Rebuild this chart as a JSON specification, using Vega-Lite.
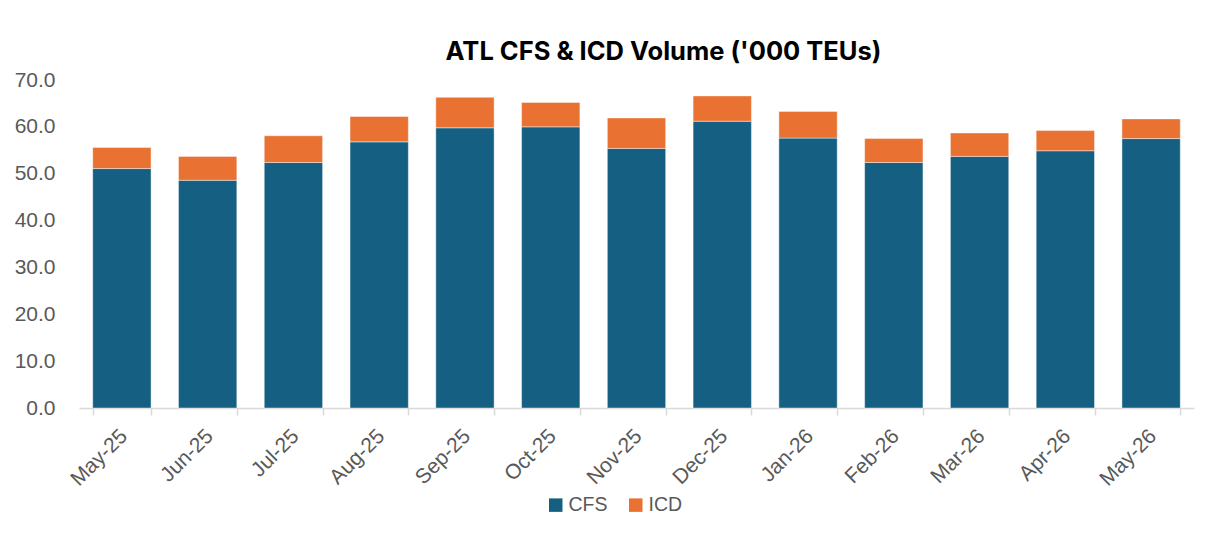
{
  "$schema": "https://vega.github.io/schema/vega-lite/v6.json",
  "autosize": "none",
  "width": 1115,
  "height": 328,
  "padding": {"left": 79, "top": 80, "right": 15, "bottom": 133},
  "background": "white",
  "title": {
    "text": "ATL CFS & ICD Volume ('000 TEUs)",
    "frame": "group",
    "anchor": "middle",
    "dx": 27,
    "offset": 4,
    "font": "Inter",
    "fontSize": 25.5,
    "fontWeight": "bold",
    "color": "#000000"
  },
  "data": {
    "values": [
      {"month": "May-25", "series": "CFS", "value": 51.1},
      {"month": "May-25", "series": "ICD", "value": 4.5},
      {"month": "Jun-25", "series": "CFS", "value": 48.6},
      {"month": "Jun-25", "series": "ICD", "value": 5.1},
      {"month": "Jul-25", "series": "CFS", "value": 52.4},
      {"month": "Jul-25", "series": "ICD", "value": 5.7},
      {"month": "Aug-25", "series": "CFS", "value": 56.8},
      {"month": "Aug-25", "series": "ICD", "value": 5.4},
      {"month": "Sep-25", "series": "CFS", "value": 59.8},
      {"month": "Sep-25", "series": "ICD", "value": 6.5},
      {"month": "Oct-25", "series": "CFS", "value": 60.0},
      {"month": "Oct-25", "series": "ICD", "value": 5.2},
      {"month": "Nov-25", "series": "CFS", "value": 55.4},
      {"month": "Nov-25", "series": "ICD", "value": 6.5},
      {"month": "Dec-25", "series": "CFS", "value": 61.2},
      {"month": "Dec-25", "series": "ICD", "value": 5.4},
      {"month": "Jan-26", "series": "CFS", "value": 57.6},
      {"month": "Jan-26", "series": "ICD", "value": 5.7},
      {"month": "Feb-26", "series": "CFS", "value": 52.4},
      {"month": "Feb-26", "series": "ICD", "value": 5.1},
      {"month": "Mar-26", "series": "CFS", "value": 53.7},
      {"month": "Mar-26", "series": "ICD", "value": 5.0},
      {"month": "Apr-26", "series": "CFS", "value": 54.9},
      {"month": "Apr-26", "series": "ICD", "value": 4.3},
      {"month": "May-26", "series": "CFS", "value": 57.5},
      {"month": "May-26", "series": "ICD", "value": 4.2}
    ]
  },
  "mark": {"type": "bar", "stroke": "#ffffff", "strokeWidth": 0.6, "strokeOpacity": 0.7},
  "encoding": {
    "x": {
      "field": "month",
      "type": "nominal",
      "sort": null,
      "scale": {"paddingInner": 0.32, "paddingOuter": 0.16},
      "axis": {
        "title": null,
        "labelAngle": -45,
        "labelFont": "Liberation Sans",
        "labelFontSize": 21,
        "labelColor": "#595959",
        "labelPadding": 10,
        "labelOffset": -6,
        "domainColor": "#d9d9d9",
        "domainWidth": 1.5,
        "tickColor": "#d9d9d9",
        "tickWidth": 1.5,
        "tickSize": 7,
        "tickBand": "extent",
        "grid": false
      }
    },
    "y": {
      "field": "value",
      "type": "quantitative",
      "stack": "zero",
      "scale": {"domain": [0, 70], "nice": false},
      "axis": {
        "title": null,
        "values": [0, 10, 20, 30, 40, 50, 60, 70],
        "format": ".1f",
        "labelFont": "Liberation Sans",
        "labelFontSize": 21,
        "labelColor": "#595959",
        "labelPadding": 24,
        "domain": false,
        "ticks": false,
        "grid": false
      }
    },
    "color": {
      "field": "series",
      "type": "nominal",
      "scale": {"domain": ["CFS", "ICD"], "range": ["#156082", "#E97132"]},
      "legend": {
        "title": null,
        "orient": "none",
        "legendX": 467,
        "legendY": 415,
        "direction": "horizontal",
        "symbolType": "square",
        "symbolSize": 182,
        "symbolStrokeWidth": 0,
        "labelFont": "Liberation Sans",
        "labelFontSize": 19.5,
        "labelColor": "#595959",
        "labelOffset": 3,
        "columnPadding": 18
      }
    },
    "order": {"field": "series", "sort": "ascending"}
  },
  "config": {"view": {"stroke": null}}
}
